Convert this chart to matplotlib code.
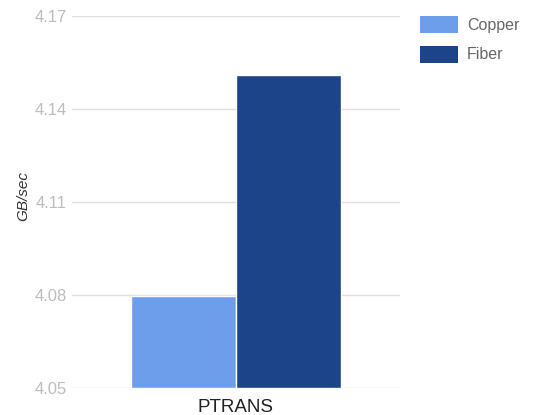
import matplotlib.pyplot as plt
from matplotlib.patches import Patch

plt.rcParams['font.family'] = ['Liberation Sans', 'DejaVu Sans']

categories = ['PTRANS']
series = ['Copper', 'Fiber']
values = [4.0797, 4.151]
colors = ['#6d9eeb', '#1c4587']
yticks = [4.05, 4.08, 4.11, 4.14, 4.17]

fig = plt.figure(figsize=(5.35, 4.15), dpi=100)
ax = fig.add_axes([0.135, 0.065, 0.612, 0.8965])

width = 0.32
for i, (name, val, col) in enumerate(zip(series, values, colors)):
    ax.bar(0 + (i - 0.5) * width, val - yticks[0], width=width, bottom=yticks[0],
           color=col, edgecolor='white', linewidth=1.0, zorder=3)

ax.set_xlim(-0.5, 0.5)
ax.set_ylim(yticks[0], yticks[-1])
ax.set_yticks(yticks)
ax.set_yticklabels(['%.2f' % t for t in yticks], fontsize=12, color='#bdbdbd')
ax.set_xticks([0])
ax.set_xticklabels(categories, fontsize=13.5, color='#222222')
ax.tick_params(axis='both', length=0)
ax.tick_params(axis='x', pad=8)
ax.tick_params(axis='y', pad=4)
ax.grid(axis='y', color='#e0e0e0', linewidth=1.0, zorder=0)
for s in ax.spines.values():
    s.set_visible(False)
ax.set_ylabel('GB/sec', fontsize=11, style='italic', color='#333333')
ax.yaxis.set_label_coords(-0.127, 0.516)

# legend to the right of the plot
handles = [Patch(facecolor=c, edgecolor='none') for c in colors]
fig.legend(handles, series, loc='upper left', bbox_to_anchor=(420 / 535, 1 - 16 / 415),
           frameon=False, fontsize=11.5, labelcolor='#666666',
           borderpad=0, borderaxespad=0,
           handlelength=2.4, handleheight=1.25, handletextpad=0.55, labelspacing=0.8)

fig.savefig('out.png')
